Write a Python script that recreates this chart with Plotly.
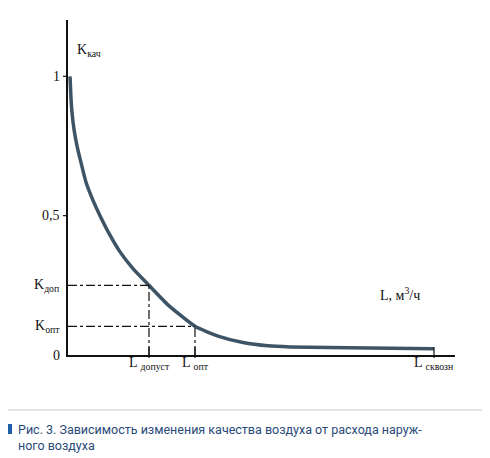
import plotly.graph_objects as go

# data (arbitrary L units; K quality 0..1)
curve_L = [2, 2.5, 3, 4, 6, 9, 13, 18, 25, 32, 42, 52, 65, 81, 100, 127, 150, 175, 200, 222, 260, 366]
curve_K = [1.0, 0.96, 0.92, 0.87, 0.81, 0.75, 0.69, 0.62, 0.555, 0.50, 0.43, 0.37, 0.31, 0.25, 0.18, 0.103, 0.068, 0.045, 0.033, 0.029, 0.027, 0.022]
K_dop, K_opt = 0.25, 0.103
L_dop, L_opt, L_skv = 81, 127, 366
y_ticks = [0, 0.5, 1]
y_tick_labels = ["0", "0,5", "1"]

O = 8  # page offset
W, H = 490 - 2 * O, 458 - O
ml, mr, mt, mb = 68 - O, 35 - O, 20 - O, 111 - O
XR = [0, 387]
YR = [0, 1.202]

fig = go.Figure()
fig.add_trace(go.Scatter(x=curve_L, y=curve_K, mode="lines", line=dict(color="#3d5466", width=3.5, shape="spline", smoothing=0.5), hoverinfo="skip"))

serif = dict(family="Liberation Serif", size=14, color="#111")
ann = []
shapes = []
pw, ph = W - ml - mr, H - mt - mb
def px(x): return (x - O - ml) / pw
def py(y): return 1 - (y - O - mt) / ph
shapes.append(dict(type="rect", xref="paper", yref="paper", x0=px(5), x1=px(485), y0=py(410), y1=py(5), line=dict(color="#c8c8c8", width=1)))
for v, t in zip(y_ticks, y_tick_labels):
    if v > 0:
        shapes.append(dict(type="line", xref="paper", yref="y", x0=px(63), x1=0, y0=v, y1=v, line=dict(color="#111", width=1.2)))
    ann.append(dict(x=px(62), y=v, xref="paper", yref="y", text=t, showarrow=False, xanchor="right", font=serif))
for k, l, name in [(K_dop, L_dop, "доп"), (K_opt, L_opt, "опт")]:
    shapes.append(dict(type="line", x0=0, x1=l, y0=k, y1=k, line=dict(color="#111", width=1.2, dash="dashdot")))
    shapes.append(dict(type="line", x0=l, x1=l, y0=0, y1=k, line=dict(color="#111", width=1.2, dash="dashdot")))
    ann.append(dict(x=px(62), y=k, xref="paper", yref="y", text="K<sub>" + name + "</sub>", showarrow=False, xanchor="right", font=serif))
for l, name in [(L_dop, "допуст"), (L_opt, "опт"), (L_skv, "сквозн")]:
    shapes.append(dict(type="line", x0=l, x1=l, yref="paper", y0=py(347), y1=py(358), line=dict(color="#111", width=1.2)))
    ann.append(dict(x=l, y=py(374), yref="paper", text="L <sub>" + name + "</sub>", showarrow=False, xanchor="center", font=serif))
ann.append(dict(x=px(75), y=py(40), xref="paper", yref="paper", text="K<sub>кач</sub>", showarrow=False, xanchor="left", font=serif))
ann.append(dict(x=px(378), y=py(305), xref="paper", yref="paper", text="L, м<sup>3</sup>/ч", showarrow=False, xanchor="left", font=serif))
shapes.append(dict(type="rect", xref="paper", yref="paper", x0=px(7), x1=px(12), y0=py(434), y1=py(424), fillcolor="#1f5ea8", line=dict(width=0)))
ann.append(dict(x=px(16), y=py(437), xref="paper", yref="paper", xanchor="left", yanchor="middle", align="left", showarrow=False,
                text="Рис. 3. Зависимость изменения качества воздуха от расхода наруж-<br>ного воздуха",
                font=dict(family="Roboto", size=12.5, color="#2a4a78")))

fig.update_layout(width=W, height=H, margin=dict(l=ml, r=mr, t=mt, b=mb), plot_bgcolor="white", paper_bgcolor="white",
                  showlegend=False, shapes=shapes, annotations=ann,
                  xaxis=dict(range=XR, showgrid=False, zeroline=False, showticklabels=False, ticks="", showline=True, linecolor="#111", linewidth=1.5, fixedrange=True),
                  yaxis=dict(range=YR, showgrid=False, zeroline=False, showticklabels=False, ticks="", showline=True, linecolor="#111", linewidth=1.5, fixedrange=True))
fig.write_html("out.html")
